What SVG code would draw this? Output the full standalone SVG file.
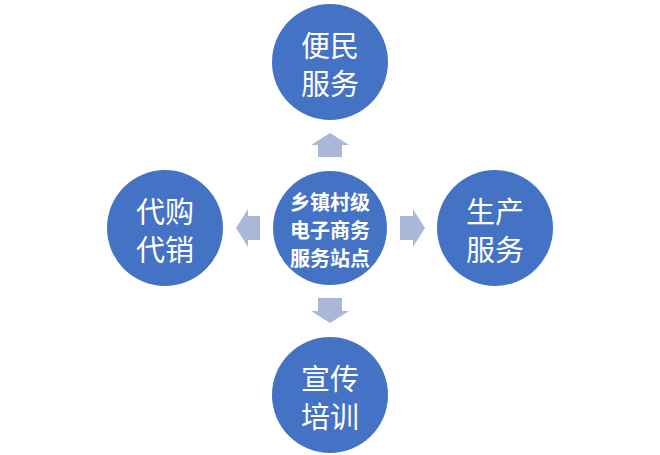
<svg xmlns="http://www.w3.org/2000/svg" width="660" height="455" viewBox="0 0 660 455">
<style>
.c{fill:#4472c4}
.a{fill:#a9b7d9}
.t{fill:#fff;font-family:"Noto Sans CJK SC",sans-serif;text-anchor:middle;dominant-baseline:central}
.b{font-size:29px}
.s{font-size:20px;font-weight:bold}
</style>
<rect width="660" height="455" fill="#fff"/>
<g id="connectors">
<polygon class="a" points="330,133 349,145 342,145 342,157 318,157 318,145 311,145"/>
<polygon class="a" points="236,228 248,209 248,216 260,216 260,240 248,240 248,247"/>
<polygon class="a" points="425,228 413,209 413,216 400,216 400,240 413,240 413,247"/>
<polygon class="a" points="330,323 349,311 342,311 342,298 318,298 318,311 311,311"/>
</g>
<g id="center"><circle class="c" cx="330" cy="228" r="57"/>
<text class="t s" x="330" y="201">乡镇村级</text><text class="t s" x="330" y="229">电子商务</text><text class="t s" x="330" y="257">服务站点</text></g>
<g id="top"><circle class="c" cx="330" cy="62" r="58"/>
<text class="t b" x="330" y="44">便民</text><text class="t b" x="330" y="82">服务</text></g>
<g id="left"><circle class="c" cx="165" cy="228" r="58"/>
<text class="t b" x="165" y="210">代购</text><text class="t b" x="165" y="248">代销</text></g>
<g id="right"><circle class="c" cx="495" cy="228" r="58"/>
<text class="t b" x="495" y="210">生产</text><text class="t b" x="495" y="248">服务</text></g>
<g id="bottom"><circle class="c" cx="330" cy="395" r="58"/>
<text class="t b" x="330" y="377">宣传</text><text class="t b" x="330" y="415">培训</text></g>
</svg>
